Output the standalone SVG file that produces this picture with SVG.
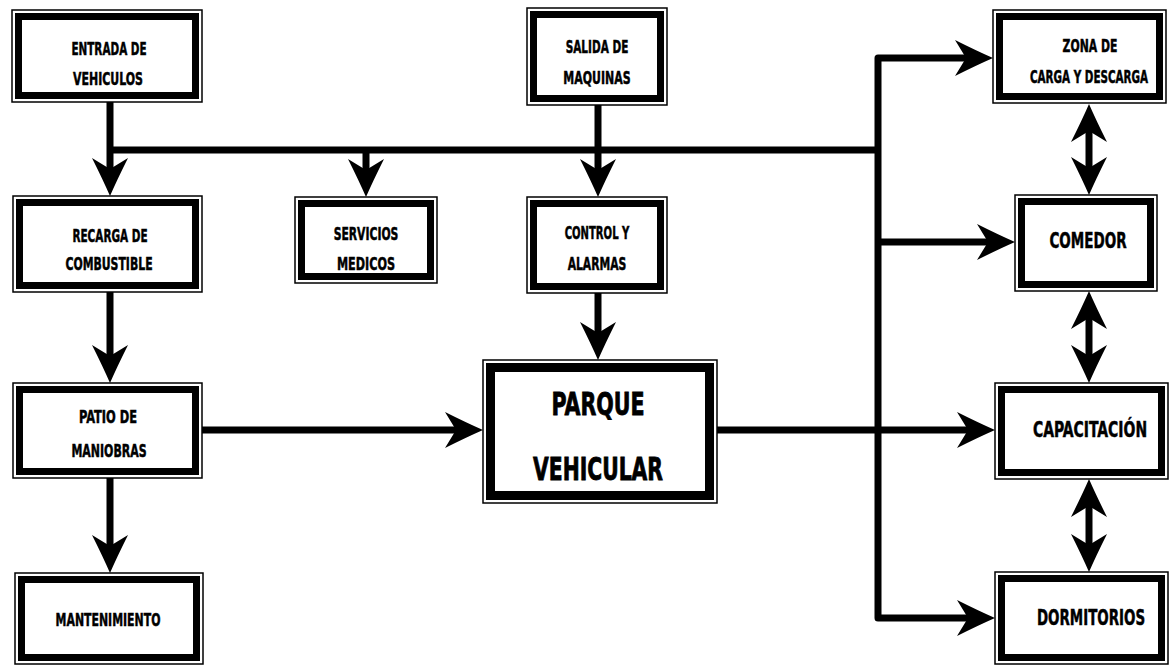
<svg xmlns="http://www.w3.org/2000/svg" xmlns:xlink="http://www.w3.org/1999/xlink" width="1170" height="665" viewBox="0 0 1170 665">
  <style>
    .outer { fill: #fff; stroke: #000; stroke-width: 1.5; }
    .inner { fill: none; stroke: #000; stroke-width: 7; }
    .inner-big { fill: none; stroke: #000; stroke-width: 9; }
    .lbl { font-family: "DejaVu Sans Condensed", "Liberation Sans Narrow", "Liberation Sans", sans-serif; font-stretch: condensed; font-weight: bold; fill: #000; stroke: #000; stroke-width: 0.5; text-anchor: middle; }
    .s { font-size: 18px; }
    .m { font-size: 22px; }
    .l { font-size: 32px; stroke-width: 0.8; }
    .wire { fill: none; stroke: #000; stroke-width: 7; stroke-linejoin: round; }
  </style>
  <defs>
    <!-- barbed arrowhead, tip at origin, pointing along +x -->
    <path id="ah" d="M0,0 Q-16,-7 -38,-18 L-27,0 L-38,18 Q-16,7 0,0 Z" fill="#000"/>
  </defs>

  <rect width="1170" height="665" fill="#fff"/>

  <!-- connectors -->
  <g id="connectors">
    <!-- left column -->
    <path class="wire" d="M110,102 V172"/>
    <use href="#ah" transform="translate(110,196) rotate(90)"/>
    <path class="wire" d="M110,292 V358"/>
    <use href="#ah" transform="translate(110,383) rotate(90)"/>
    <path class="wire" d="M110,478 V548"/>
    <use href="#ah" transform="translate(110,573) rotate(90)"/>

    <!-- distribution bus -->
    <path class="wire" d="M107,150 H881"/>
    <path class="wire" d="M366,150 V173"/>
    <use href="#ah" transform="translate(366,197) rotate(90)"/>

    <!-- salida / control / parque -->
    <path class="wire" d="M598,105 V173"/>
    <use href="#ah" transform="translate(598,197) rotate(90)"/>
    <path class="wire" d="M598,293 V336"/>
    <use href="#ah" transform="translate(598,360) rotate(90)"/>

    <!-- patio to parque, parque to capacitacion -->
    <path class="wire" d="M202,430 H458"/>
    <use href="#ah" transform="translate(483,430)"/>
    <path class="wire" d="M717,430 H970"/>
    <use href="#ah" transform="translate(995,430)"/>

    <!-- right trunk -->
    <path class="wire" d="M968,58 H878 V618 H970"/>
    <use href="#ah" transform="translate(993,58)"/>
    <use href="#ah" transform="translate(995,618)"/>
    <path class="wire" d="M878,242 H990"/>
    <use href="#ah" transform="translate(1015,242)"/>

    <!-- two-way links in the right column -->
    <path class="wire" d="M1089,125 V173"/>
    <use href="#ah" transform="translate(1089,104) rotate(-90)"/>
    <use href="#ah" transform="translate(1089,195) rotate(90)"/>
    <path class="wire" d="M1089,312 V361"/>
    <use href="#ah" transform="translate(1089,291) rotate(-90)"/>
    <use href="#ah" transform="translate(1089,383) rotate(90)"/>
    <path class="wire" d="M1089,500 V550"/>
    <use href="#ah" transform="translate(1089,479) rotate(-90)"/>
    <use href="#ah" transform="translate(1089,572) rotate(90)"/>
  </g>

  <!-- nodes: labels are squeezed horizontally (scale 0.66) to a condensed face -->
  <g id="entrada">
    <rect class="outer" x="12" y="10" width="190" height="92"/>
    <rect class="inner" x="18.5" y="16.5" width="177" height="79"/>
    <text class="lbl s" transform="translate(109 55) scale(0.66 1)" textLength="114" lengthAdjust="spacingAndGlyphs">ENTRADA DE</text>
    <text class="lbl s" transform="translate(108 85) scale(0.66 1)" textLength="106" lengthAdjust="spacingAndGlyphs">VEHICULOS</text>
  </g>

  <g id="recarga">
    <rect class="outer" x="13" y="196" width="189" height="96"/>
    <rect class="inner" x="19.5" y="202.5" width="176" height="83"/>
    <text class="lbl s" transform="translate(110 242) scale(0.66 1)" textLength="114" lengthAdjust="spacingAndGlyphs">RECARGA DE</text>
    <text class="lbl s" transform="translate(109 270) scale(0.66 1)" textLength="132" lengthAdjust="spacingAndGlyphs">COMBUSTIBLE</text>
  </g>

  <g id="patio">
    <rect class="outer" x="13" y="383" width="189" height="95"/>
    <rect class="inner" x="19.5" y="389.5" width="176" height="82"/>
    <text class="lbl s" transform="translate(108 423) scale(0.66 1)" textLength="88" lengthAdjust="spacingAndGlyphs">PATIO DE</text>
    <text class="lbl s" transform="translate(109 457) scale(0.66 1)" textLength="114" lengthAdjust="spacingAndGlyphs">MANIOBRAS</text>
  </g>

  <g id="mantenimiento">
    <rect class="outer" x="15" y="573" width="188" height="91"/>
    <rect class="inner" x="21.5" y="579.5" width="175" height="78"/>
    <text class="lbl s" transform="translate(108 626) scale(0.66 1)" textLength="159" lengthAdjust="spacingAndGlyphs">MANTENIMIENTO</text>
  </g>

  <g id="servicios">
    <rect class="outer" x="295" y="197" width="142" height="86"/>
    <rect class="inner" x="301.5" y="203.5" width="129" height="73"/>
    <text class="lbl s" transform="translate(366 240) scale(0.66 1)" textLength="98" lengthAdjust="spacingAndGlyphs">SERVICIOS</text>
    <text class="lbl s" transform="translate(366 270) scale(0.66 1)" textLength="88" lengthAdjust="spacingAndGlyphs">MEDICOS</text>
  </g>

  <g id="salida">
    <rect class="outer" x="527" y="8" width="140" height="97"/>
    <rect class="inner" x="533.5" y="14.5" width="127" height="84"/>
    <text class="lbl s" transform="translate(597 53) scale(0.66 1)" textLength="95" lengthAdjust="spacingAndGlyphs">SALIDA DE</text>
    <text class="lbl s" transform="translate(597 84) scale(0.66 1)" textLength="102" lengthAdjust="spacingAndGlyphs">MAQUINAS</text>
  </g>

  <g id="control">
    <rect class="outer" x="527" y="197" width="140" height="96"/>
    <rect class="inner" x="533.5" y="203.5" width="127" height="83"/>
    <text class="lbl s" transform="translate(597 239) scale(0.66 1)" textLength="98" lengthAdjust="spacingAndGlyphs">CONTROL Y</text>
    <text class="lbl s" transform="translate(597 270) scale(0.66 1)" textLength="89" lengthAdjust="spacingAndGlyphs">ALARMAS</text>
  </g>

  <g id="parque">
    <rect class="outer" x="483" y="360" width="234" height="143"/>
    <rect class="inner-big" x="490.5" y="367.5" width="219" height="128"/>
    <text class="lbl l" transform="translate(598 415) scale(0.66 1)" textLength="141" lengthAdjust="spacingAndGlyphs">PARQUE</text>
    <text class="lbl l" transform="translate(598 480) scale(0.66 1)" textLength="197" lengthAdjust="spacingAndGlyphs">VEHICULAR</text>
  </g>

  <g id="zona">
    <rect class="outer" x="993" y="10" width="173" height="93"/>
    <rect class="inner" x="999.5" y="16.5" width="160" height="80"/>
    <text class="lbl s" transform="translate(1090 52) scale(0.66 1)" textLength="83" lengthAdjust="spacingAndGlyphs">ZONA DE</text>
    <text class="lbl s" transform="translate(1089 83) scale(0.66 1)" textLength="179" lengthAdjust="spacingAndGlyphs">CARGA Y DESCARGA</text>
  </g>

  <g id="comedor">
    <rect class="outer" x="1015" y="195" width="142" height="96"/>
    <rect class="inner" x="1021.5" y="201.5" width="129" height="83"/>
    <text class="lbl m" transform="translate(1088 248) scale(0.66 1)" textLength="117" lengthAdjust="spacingAndGlyphs">COMEDOR</text>
  </g>

  <g id="capacitacion">
    <rect class="outer" x="995" y="383" width="173" height="96"/>
    <rect class="inner" x="1001.5" y="389.5" width="160" height="83"/>
    <text class="lbl m" transform="translate(1090 437) scale(0.66 1)" textLength="173" lengthAdjust="spacingAndGlyphs">CAPACITACIÓN</text>
  </g>

  <g id="dormitorios">
    <rect class="outer" x="995" y="572" width="173" height="92"/>
    <rect class="inner" x="1001.5" y="578.5" width="160" height="79"/>
    <text class="lbl m" transform="translate(1091 625) scale(0.66 1)" textLength="164" lengthAdjust="spacingAndGlyphs">DORMITORIOS</text>
  </g>
</svg>
